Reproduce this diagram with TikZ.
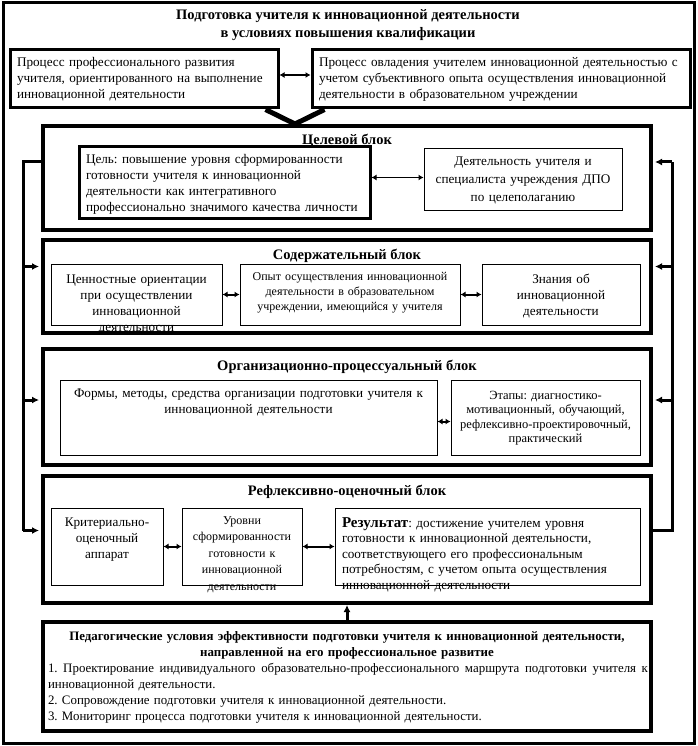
\documentclass[tikz,border=0pt]{standalone}
\usepackage{fontspec}
\setmainfont{Liberation Serif}
\frenchspacing
\usetikzlibrary{arrows.meta, positioning, calc}
\tikzset{
  every picture/.style={x=1pt, y=-1pt, line width=1pt},
  txt/.style={font=\fontsize{13.2}{16}\selectfont},
  title/.style={font=\fontsize{14.5}{18}\selectfont\bfseries, align=center},
  block/.style={draw, line width=4pt, minimum width=608pt, minimum height=#1, inner sep=0pt},
  cell/.style={draw, line width=#1, inner xsep=5pt, inner ysep=0pt, align=center, txt},
  cell/.default=1pt,
  feed/.style={line width=3pt},
  arrow/.style={-{Latex[length=7pt, width=7pt]}},
  twoway/.style={{Latex[length=5pt, width=6pt]}-{Latex[length=5pt, width=6pt]}, line width=#1},
  twoway/.default=2pt,
}
\begin{document}
\begin{tikzpicture}
  \useasboundingbox (0,0) rectangle (697,746);
  \draw[line width=3pt] (3,3) rectangle (694,743);
  \node[title] (head) at (348,25) {Подготовка учителя к инновационной деятельности\\в условиях повышения квалификации};

  % процессы
  \node[cell=3pt, align=left, inner xsep=7pt, text width=254pt, text height=17pt, text depth=41pt] (dev) at (144,79)
    {Процесс профессионального развития\\учителя, ориентированного на выполнение\\инновационной деятельности};
  \node[cell=3pt, align=left, inner xsep=7pt, text width=364pt, text height=17pt, text depth=41pt] (mast) at (501,79)
    {Процесс овладения учителем инновационной деятельностью с\\учетом субъективного опыта осуществления инновационной\\деятельности в образовательном учреждении};
  \draw[twoway] ([yshift=4pt]dev.east) -- ([yshift=4pt]mast.west);

  % Целевой блок
  \node[block=104pt] (goalblk) at (347,178) {};
  \node[title] (goalttl) at (347,141) {Целевой блок};
  \node[cell=3pt, align=left, inner xsep=7pt, text width=277pt, text height=17pt, text depth=54pt] (aim) at (224.5,182.5)
    {Цель: повышение уровня сформированности\\готовности учителя к инновационной\\деятельности как интегративного\\профессионально значимого качества личности};
  \node[cell, text width=188pt, text height=16pt, text depth=45pt, font=\fontsize{13.2}{18}\selectfont] (act) at (523,179.5)
    {Деятельность учителя и\\специалиста учреждения ДПО\\по целеполаганию};
  \draw[twoway=1pt] ([yshift=5pt]aim.east) -- ([yshift=5pt]aim.east -| act.west);

  % сходящиеся линии
  \coordinate (mid) at ($(dev.south east)!0.5!(mast.south west)$);
  \coordinate (meet) at (mid |- goalblk.north);
  \draw[line width=5pt] ([xshift=-14pt]dev.south east) -- (meet) -- ([xshift=14pt]mast.south west);

  % Содержательный блок
  \node[block=93pt] (contblk) at (347,286.5) {};
  \node[title] (contttl) at (347,256) {Содержательный блок};
  \node[cell, text width=161pt, text height=19pt, text depth=42pt] (val) at (136.5,294.5)
    {Ценностные ориентации\\при осуществлении\\инновационной\\деятельности};
  \node[cell, text width=210pt, text height=16pt, text depth=45pt, font=\fontsize{12}{15}\selectfont] (exp) at (350,294.5)
    {Опыт осуществления инновационной\\деятельности в образовательном\\учреждении, имеющийся у учителя};
  \node[cell, text width=148pt, text height=19pt, text depth=42pt] (know) at (561,294.5)
    {Знания об\\инновационной\\деятельности};
  \draw[twoway] (val.east) -- (exp.west);
  \draw[twoway] (exp.east) -- (know.west);

  % Организационно-процессуальный блок
  \node[block=116pt] (orgblk) at (347,407) {};
  \node[title] (orgttl) at (347,367) {Организационно-процессуальный блок};
  \node[cell, text width=367pt, text height=17pt, text depth=58pt] (forms) at (248.5,417.5)
    {Формы, методы, средства организации подготовки учителя к\\инновационной деятельности};
  \node[cell, text width=179pt, text height=19pt, text depth=56pt, font=\fontsize{12.5}{14.5}\selectfont] (stages) at (545.5,417.5)
    {Этапы: диагностико-\\мотивационный, обучающий,\\рефлексивно-проектировочный,\\практический};
  \draw[twoway] ([yshift=-4pt]forms.east) -- ([yshift=-4pt]stages.west);

  % Рефлексивно-оценочный блок
  \node[block=127pt] (reflblk) at (347,539.5) {};
  \node[title] (reflttl) at (347,492) {Рефлексивно-оценочный блок};
  \node[cell, text width=102pt, text height=18pt, text depth=59pt] (crit) at (107,546.5)
    {Критериально-\\оценочный\\аппарат};
  \node[cell, text width=110pt, text height=16pt, text depth=61pt, font=\fontsize{12}{16.5}\selectfont] (lev) at (242,546.5)
    {Уровни\\сформированности\\готовности к\\инновационной\\деятельности};
  \node[cell, align=left, inner xsep=7pt, text width=291pt, text height=19pt, text depth=58pt, font=\fontsize{13.2}{15.5}\selectfont] (res) at (487.5,546.5)
    {{\fontsize{15}{15.5}\selectfont\bfseries Результат}: достижение учителем уровня\\готовности к инновационной деятельности,\\соответствующего его профессиональным\\потребностям, с учетом опыта осуществления\\инновационной деятельности};
  \draw[twoway] (crit.east) -- (lev.west);
  \draw[twoway] (lev.east) -- (res.west);

  % обратная связь слева
  \coordinate (lt) at ($(goalblk.west)+(-18,-16)$);
  \coordinate (lb) at ($(reflblk.west)+(-18,-9)$);
  \draw[feed] (goalblk.west |- lt) -- (lt) -- (lb);
  \foreach \blk/\dy in {contblk/-20, orgblk/-7, reflblk/-9}
    \draw[feed, arrow] ($(\blk.west)+(-18,\dy)$) -- ($(\blk.west)+(-2,\dy)$);

  % обратная связь справа
  \coordinate (rb) at ($(reflblk.east)+(19,-9)$);
  \coordinate (rt) at ($(goalblk.east)+(19,-16)$);
  \draw[feed] (reflblk.east |- rb) -- (rb) -- (rt);
  \foreach \blk/\dy in {goalblk/-16, contblk/-20, orgblk/-7}
    \draw[feed, arrow] ($(\blk.east)+(19,\dy)$) -- ($(\blk.east)+(2,\dy)$);

  % педагогические условия
  \node[block=109pt, align=left, inner xsep=5pt, text width=598pt, text height=18pt, text depth=91pt, font=\fontsize{12.9}{16}\selectfont] (cond) at (347,676.5)
    {\makebox[598pt]{\bfseries Педагогические условия эффективности подготовки учителя к инновационной деятельности,}\\
     \makebox[598pt]{\bfseries направленной на его профессиональное развитие}\\
     \leavevmode\hbox to 600pt{\spaceskip=0pt 1. Проектирование индивидуального образовательно-профессионального маршрута подготовки учителя к}\\
     инновационной деятельности.\\
     2. Сопровождение подготовки учителя к инновационной деятельности.\\
     3. Мониторинг процесса подготовки учителя к инновационной деятельности.};
  \draw[feed, arrow] (cond.north) -- (reflblk.south);
\end{tikzpicture}
\end{document}
